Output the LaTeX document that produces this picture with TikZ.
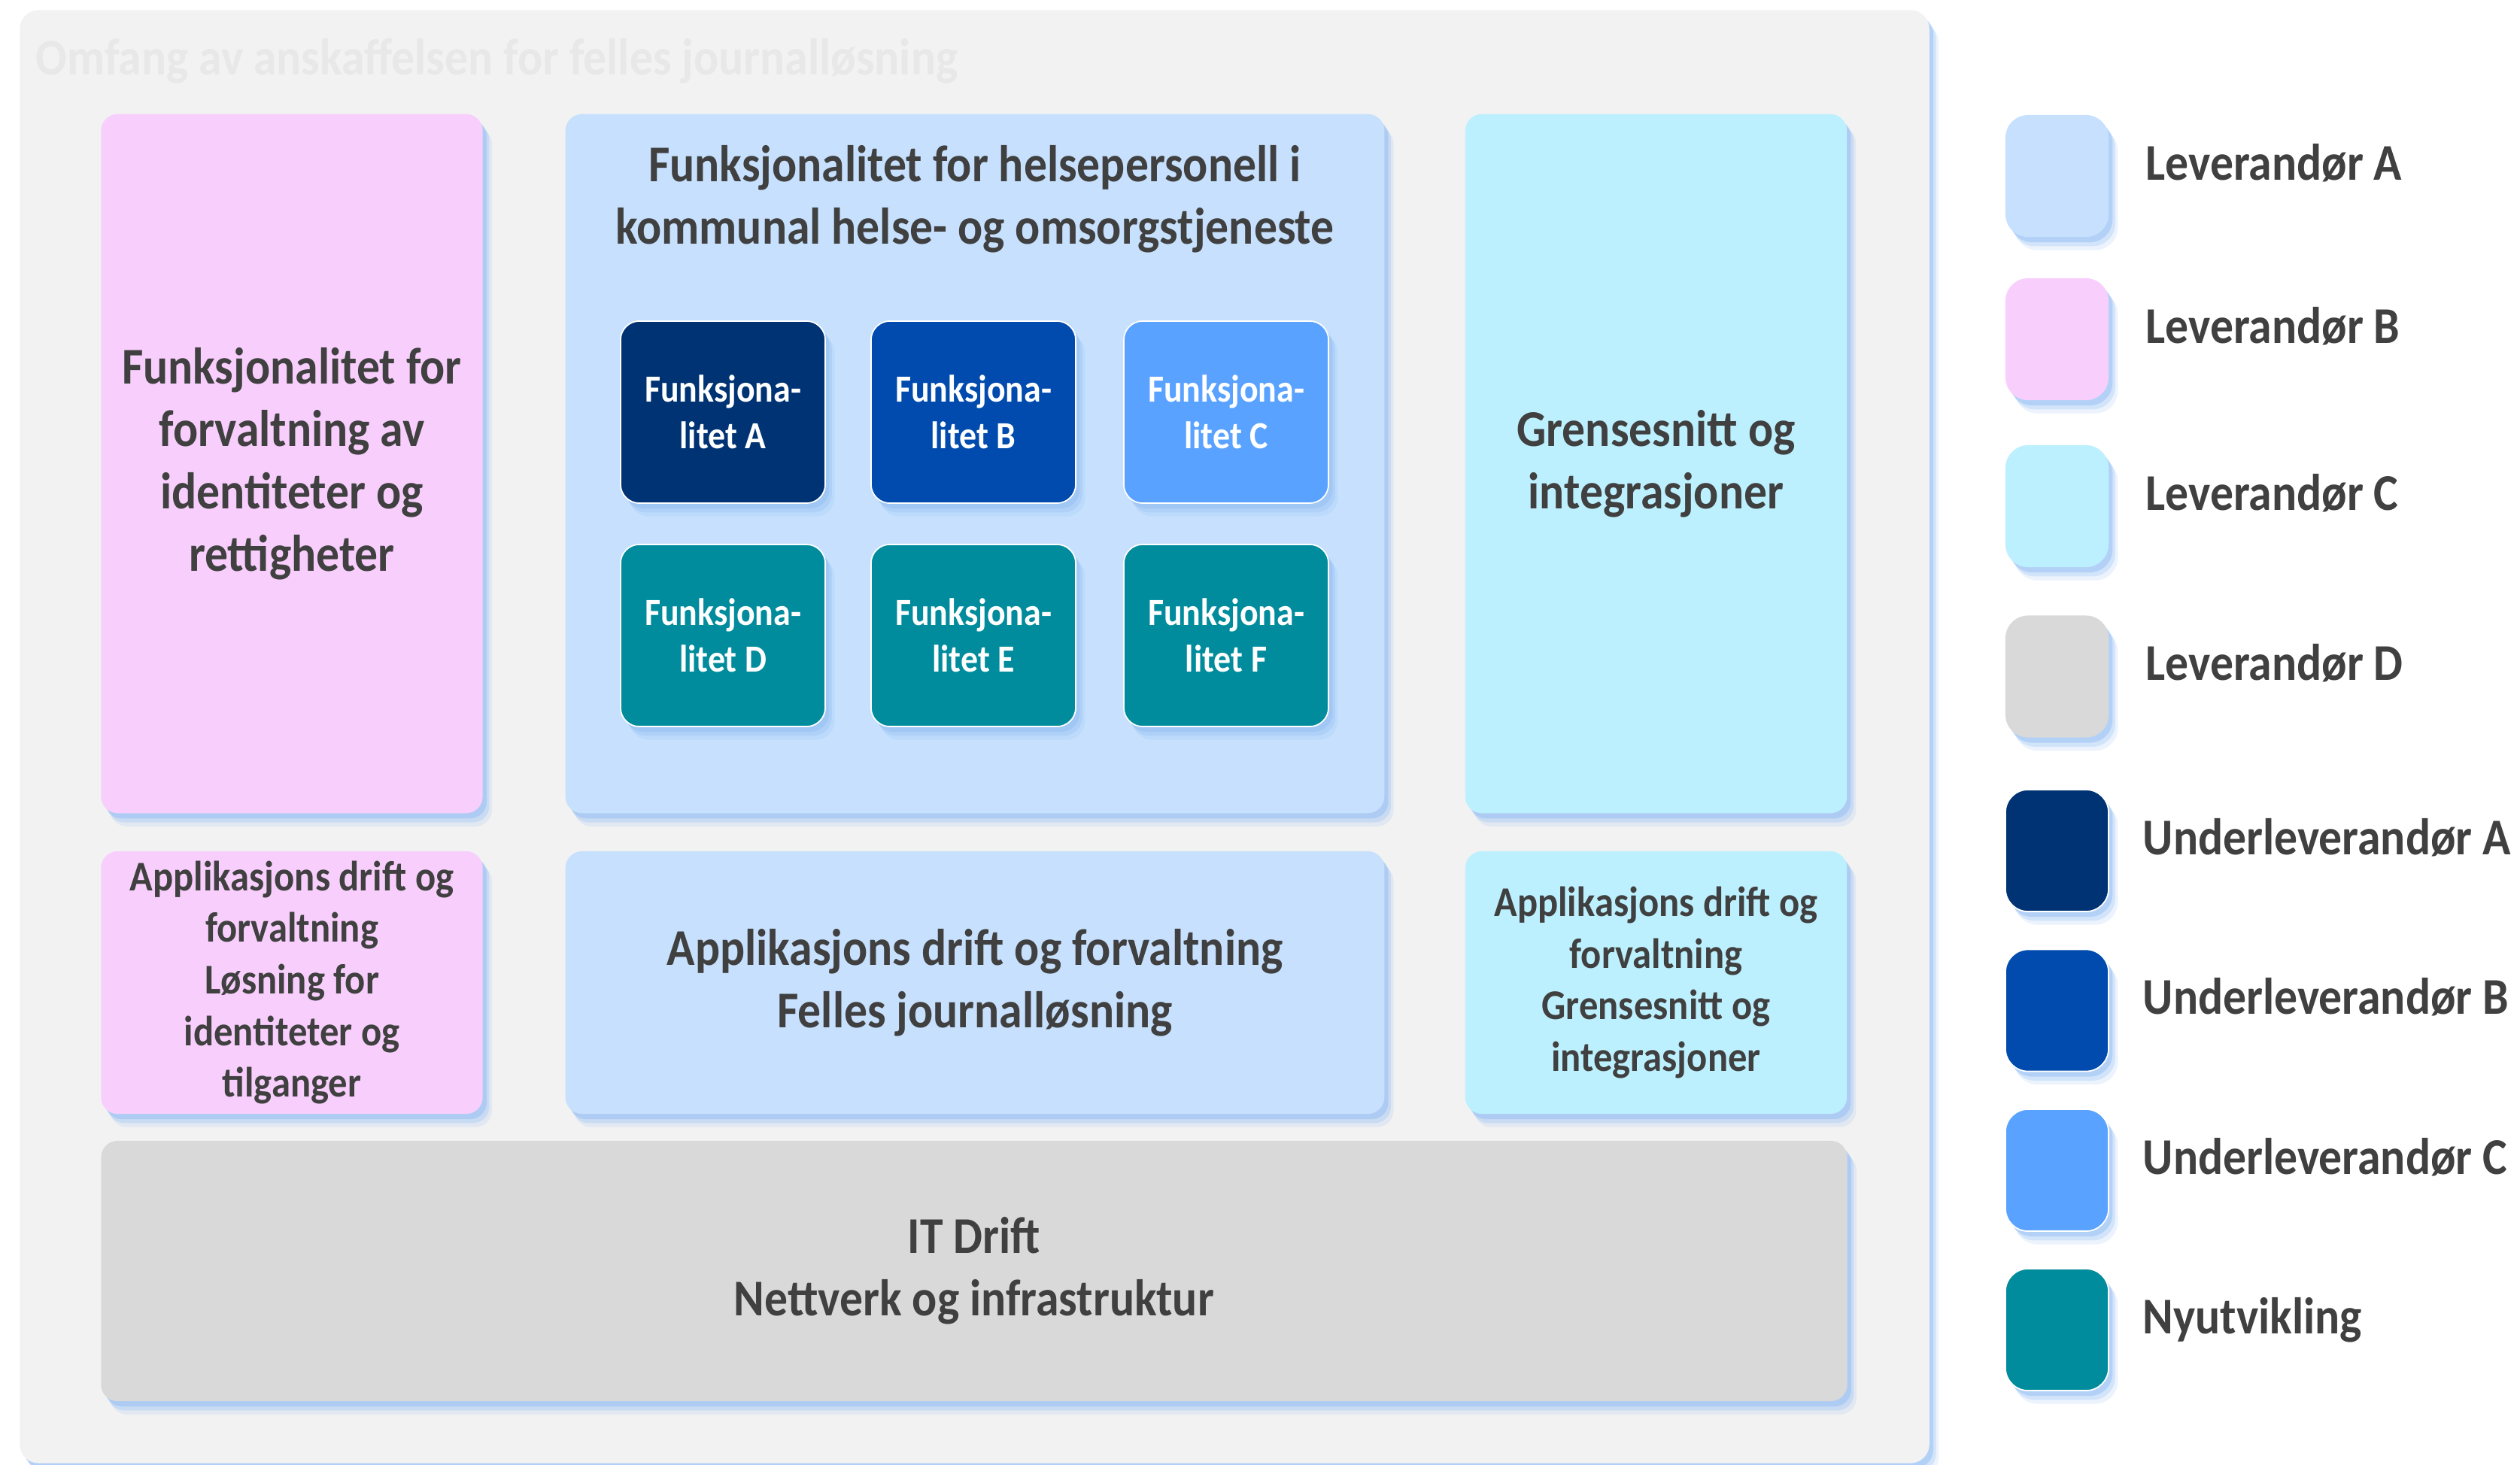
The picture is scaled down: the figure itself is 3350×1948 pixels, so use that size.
\documentclass[tikz,border=0pt]{standalone}
\usepackage{fontspec}
\setmainfont{Carlito}[FakeStretch=0.9]
\usetikzlibrary{shadows}

\definecolor{scopegray}{HTML}{F2F2F2}
\definecolor{titlegray}{HTML}{E8E8E8}
\definecolor{textgray}{HTML}{404040}
\definecolor{levA}{HTML}{C6E0FD}
\definecolor{levB}{HTML}{F8CFFC}
\definecolor{levC}{HTML}{BDF0FE}
\definecolor{levD}{HTML}{D9D9D9}
\definecolor{ulevA}{HTML}{003373}
\definecolor{ulevB}{HTML}{004BAD}
\definecolor{ulevC}{HTML}{5AA2FF}
\definecolor{nyutv}{HTML}{008C9C}
\definecolor{glow}{HTML}{94BFF4}

\tikzset{
  glowy/.style={drop shadow={shadow xshift=3.5pt, shadow yshift=-5pt, fill=glow, opacity=.18},
    drop shadow={shadow xshift=2.5pt, shadow yshift=-3.5pt, fill=glow, opacity=.3},
    drop shadow={shadow xshift=1.5pt, shadow yshift=-2pt, fill=glow, opacity=.5}},
  bigfont/.style={font=\bfseries\fontsize{19.5}{23.6}\selectfont},
  area/.style={glowy, rounded corners=2.2mm, text=textgray, align=center, inner sep=0pt, bigfont},
  tallbox/.style={area, minimum width=5.07cm, minimum height=9.29cm},
  lowbox/.style={area, minimum width=5.07cm, minimum height=3.49cm, font=\bfseries\fontsize{16}{19.5}\selectfont},
  funcbox/.style={glowy, rounded corners=2.5mm, draw=white, line width=.5pt, text=white, align=center,
    minimum width=2.72cm, minimum height=2.42cm, font=\bfseries\fontsize{14.5}{17.6}\selectfont},
  legbox/.style={glowy, rounded corners=3mm, minimum width=1.37cm, minimum height=1.62cm},
  darkleg/.style={legbox, draw=white, line width=.5pt},
  legtext/.style={anchor=base west, text=textgray, bigfont, inner sep=0pt}
}

\begin{document}
\begin{tikzpicture}[x=0.01cm, y=-0.01cm]
  \useasboundingbox (0,0) rectangle (3350,1948);

  % scope of the procurement
  \node[glowy, fill=scopegray, rounded corners=2.5mm, minimum width=25.37cm, minimum height=19.31cm] (scope) at (1295.5,979.5) {};
  \node[anchor=base west, inner sep=0pt, text=titlegray, font=\bfseries\fontsize{19.5}{24}\selectfont] (scopetitle) at (47,99)
    {Omfang av anskaffelsen for felles journalløsning};

  % upper row
  \node[tallbox, fill=levB] (idm) at (388,616.5)
    {Funksjonalitet for\\forvaltning av\\identiteter og\\rettigheter};
  \node[area, fill=levA, minimum width=10.88cm, minimum height=9.29cm] (journal) at (1296,616.5) {};
  \node[text=textgray, align=center, bigfont] (journaltitle) at (1296,265)
    {Funksjonalitet for helsepersonell i\\kommunal helse- og omsorgstjeneste};
  \node[tallbox, fill=levC] (integ) at (2201.5,616.5)
    {Grensesnitt og\\integrasjoner};

  \node[funcbox, fill=ulevA] (funcA) at (961,548) {Funksjona-\\litet A};
  \node[funcbox, fill=ulevB] (funcB) at (1294,548) {Funksjona-\\litet B};
  \node[funcbox, fill=ulevC] (funcC) at (1630,548) {Funksjona-\\litet C};
  \node[funcbox, fill=nyutv] (funcD) at (961,845) {Funksjona-\\litet D};
  \node[funcbox, fill=nyutv] (funcE) at (1294,845) {Funksjona-\\litet E};
  \node[funcbox, fill=nyutv] (funcF) at (1630,845) {Funksjona-\\litet F};

  % application operations
  \node[lowbox, fill=levB] (idmdrift) at (388,1306.5)
    {Applikasjons drift og\\forvaltning\\Løsning for\\identiteter og\\tilganger};
  \node[area, fill=levA, minimum width=10.88cm, minimum height=3.49cm] (journaldrift) at (1296,1306.5)
    {Applikasjons drift og forvaltning\\Felles journalløsning};
  \node[lowbox, fill=levC] (integdrift) at (2201.5,1306.5)
    {Applikasjons drift og\\forvaltning\\Grensesnitt og\\integrasjoner};

  % IT operations
  \node[area, fill=levD, minimum width=23.2cm, minimum height=3.46cm] (itdrift) at (1295,1690)
    {IT Drift\\Nettverk og infrastruktur};

  % legend
  \node[legbox, fill=levA] (legA) at (2734.5,234) {};
  \node[legtext] (legAtext) at (2852,239) {Leverandør A};
  \node[legbox, fill=levB] (legB) at (2734.5,451) {};
  \node[legtext] (legBtext) at (2852,456) {Leverandør B};
  \node[legbox, fill=levC] (legC) at (2734.5,673) {};
  \node[legtext] (legCtext) at (2852,678) {Leverandør C};
  \node[legbox, fill=levD] (legD) at (2734.5,899.5) {};
  \node[legtext] (legDtext) at (2852,904.5) {Leverandør D};
  \node[darkleg, fill=ulevA] (legUA) at (2734.5,1131) {};
  \node[legtext] (legUAtext) at (2848,1136) {Underleverandør A};
  \node[darkleg, fill=ulevB] (legUB) at (2734.5,1343.5) {};
  \node[legtext] (legUBtext) at (2848,1348.5) {Underleverandør B};
  \node[darkleg, fill=ulevC] (legUC) at (2734.5,1556) {};
  \node[legtext] (legUCtext) at (2848,1561) {Underleverandør C};
  \node[darkleg, fill=nyutv] (legNy) at (2734.5,1768) {};
  \node[legtext] (legNytext) at (2848,1773) {Nyutvikling};
\end{tikzpicture}
\end{document}
